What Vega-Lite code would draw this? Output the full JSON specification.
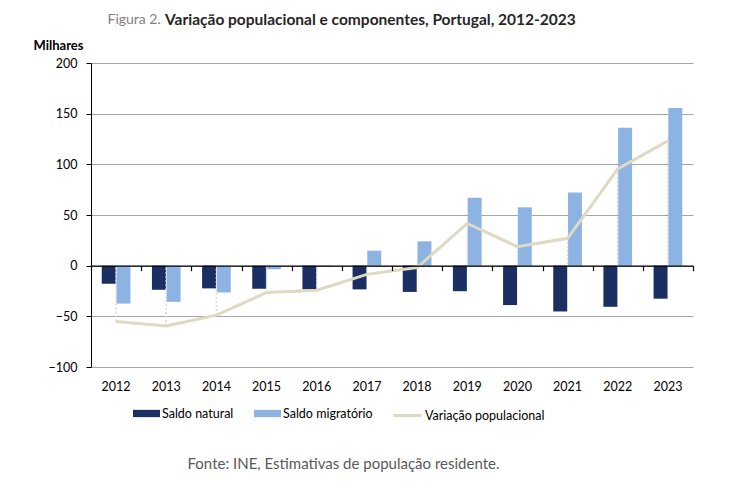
{
  "$schema": "https://vega.github.io/schema/vega-lite/v6.json",
  "padding": {"left": 33, "top": 12, "right": 5, "bottom": 5},
  "background": "white",
  "width": 602,
  "height": 304,
  "config": {"font": "Lato", "view": {"stroke": null}},
  "title": {
    "text": "Variação populacional e componentes, Portugal, 2012-2023",
    "anchor": "start",
    "frame": "group",
    "dx": 74,
    "offset": -15,
    "font": "Lato",
    "fontSize": 15.5,
    "fontWeight": "bold",
    "color": "#262626"
  },
  "datasets": {
    "bars": [
      {"ano": "2012", "serie": "Saldo natural", "valor": -17.8},
      {"ano": "2012", "serie": "Saldo migratório", "valor": -37.4},
      {"ano": "2013", "serie": "Saldo natural", "valor": -23.8},
      {"ano": "2013", "serie": "Saldo migratório", "valor": -35.7},
      {"ano": "2014", "serie": "Saldo natural", "valor": -22.4},
      {"ano": "2014", "serie": "Saldo migratório", "valor": -26.4},
      {"ano": "2015", "serie": "Saldo natural", "valor": -22.9},
      {"ano": "2015", "serie": "Saldo migratório", "valor": -3.6},
      {"ano": "2016", "serie": "Saldo natural", "valor": -23.4},
      {"ano": "2016", "serie": "Saldo migratório", "valor": -0.5},
      {"ano": "2017", "serie": "Saldo natural", "valor": -23.4},
      {"ano": "2017", "serie": "Saldo migratório", "valor": 14.8},
      {"ano": "2018", "serie": "Saldo natural", "valor": -25.9},
      {"ano": "2018", "serie": "Saldo migratório", "valor": 24.0},
      {"ano": "2019", "serie": "Saldo natural", "valor": -25.2},
      {"ano": "2019", "serie": "Saldo migratório", "valor": 66.9},
      {"ano": "2020", "serie": "Saldo natural", "valor": -38.9},
      {"ano": "2020", "serie": "Saldo migratório", "valor": 57.6},
      {"ano": "2021", "serie": "Saldo natural", "valor": -45.2},
      {"ano": "2021", "serie": "Saldo migratório", "valor": 72.2},
      {"ano": "2022", "serie": "Saldo natural", "valor": -40.6},
      {"ano": "2022", "serie": "Saldo migratório", "valor": 136.1},
      {"ano": "2023", "serie": "Saldo natural", "valor": -32.6},
      {"ano": "2023", "serie": "Saldo migratório", "valor": 155.7}
    ],
    "linha": [
      {"ano": "2012", "serie": "Variação populacional", "valor": -55.2},
      {"ano": "2013", "serie": "Variação populacional", "valor": -59.5},
      {"ano": "2014", "serie": "Variação populacional", "valor": -48.8},
      {"ano": "2015", "serie": "Variação populacional", "valor": -26.5},
      {"ano": "2016", "serie": "Variação populacional", "valor": -24.2},
      {"ano": "2017", "serie": "Variação populacional", "valor": -8.6},
      {"ano": "2018", "serie": "Variação populacional", "valor": -1.9},
      {"ano": "2019", "serie": "Variação populacional", "valor": 41.7},
      {"ano": "2020", "serie": "Variação populacional", "valor": 18.7},
      {"ano": "2021", "serie": "Variação populacional", "valor": 27.0},
      {"ano": "2022", "serie": "Variação populacional", "valor": 95.5},
      {"ano": "2023", "serie": "Variação populacional", "valor": 123.1}
    ]
  },
  "layer": [
    {
      "data": {"name": "bars"},
      "mark": {"type": "bar"},
      "encoding": {
        "x": {
          "field": "ano", "type": "nominal",
          "scale": {"paddingInner": 0, "paddingOuter": 0},
          "axis": {
            "orient": "bottom", "domain": false, "ticks": false, "labelAngle": 0,
            "labelPadding": 13, "labelFontSize": 12.5, "labelColor": "#000000", "labelFont": "Lato",
            "title": "Fonte: INE, Estimativas de população residente.",
            "titleX": 252, "titleY": 96, "titleAlign": "center", "titleBaseline": "middle",
            "titleFont": "Lato", "titleFontSize": 15, "titleFontWeight": "normal", "titleColor": "#595959"
          }
        },
        "xOffset": {
          "field": "serie", "type": "nominal",
          "scale": {"domain": ["Saldo natural", "Saldo migratório"], "paddingInner": 0.05, "paddingOuter": 0.73}
        },
        "y": {
          "field": "valor", "type": "quantitative",
          "scale": {"domain": [-100, 200], "nice": false, "zero": false},
          "axis": {
            "values": [-100, -50, 0, 50, 100, 150, 200],
            "grid": true, "gridColor": "#a6a6a6", "gridWidth": 1,
            "domain": true, "domainColor": "#000000", "domainWidth": 1,
            "ticks": true, "tickColor": "#000000", "tickSize": 5,
            "labelPadding": 9, "labelFontSize": 12.5, "labelColor": "#000000", "labelFont": "Lato",
            "title": "Milhares", "titleAngle": 0, "titleAlign": "left", "titleBaseline": "middle",
            "titleX": -58, "titleY": -18, "titleFont": "Lato", "titleFontSize": 13, "titleFontWeight": "bold", "titleColor": "#000000"
          }
        },
        "fill": {
          "field": "serie", "type": "nominal",
          "scale": {"domain": ["Saldo natural", "Saldo migratório"], "range": ["#1c2f62", "#8db3e2"]},
          "legend": {
            "orient": "none", "legendX": 42, "legendY": 337, "direction": "horizontal",
            "title": null, "symbolType": "M-1,-0.27H1V0.27H-1Z", "symbolSize": 729, "symbolStrokeWidth": 0,
            "labelFont": "Lato", "labelFontSize": 12.5, "labelColor": "#000000", "labelOffset": 2, "columnPadding": 20
          }
        }
      }
    },
    {
      "data": {"name": "linha"},
      "mark": {"type": "rule", "color": "#d9d9d9", "strokeWidth": 1.5, "strokeDash": [2, 2]},
      "encoding": {
        "x": {
          "field": "ano", "type": "nominal",
          "axis": {
            "orient": "bottom", "offset": -101.33, "zindex": 1, "labels": false,
            "domain": true, "domainColor": "#000000", "domainWidth": 1.2,
            "ticks": true, "tickBand": "extent", "tickColor": "#000000", "tickSize": 5, "tickWidth": 1.2,
            "grid": false,
            "title": "Figura 2.", "titleX": 16, "titleY": -245.67, "titleAlign": "left", "titleBaseline": "middle",
            "titleFont": "Lato", "titleFontSize": 14, "titleFontWeight": "normal", "titleColor": "#7f7f7f"
          }
        },
        "y": {"field": "valor", "type": "quantitative"},
        "y2": {"datum": 0}
      }
    },
    {
      "data": {"name": "linha"},
      "mark": {"type": "line", "strokeWidth": 3, "interpolate": "linear"},
      "encoding": {
        "x": {"field": "ano", "type": "nominal", "axis": null},
        "y": {"field": "valor", "type": "quantitative"},
        "stroke": {
          "field": "serie", "type": "nominal",
          "scale": {"domain": ["Variação populacional"], "range": ["#ddd9c3"]},
          "legend": {
            "orient": "none", "legendX": 301, "legendY": 337, "direction": "horizontal",
            "title": null, "symbolType": "stroke", "symbolSize": 784, "symbolStrokeWidth": 3,
            "labelFont": "Lato", "labelFontSize": 12.5, "labelColor": "#000000", "labelOffset": 2
          }
        }
      }
    }
  ],
  "resolve": {"axis": {"x": "independent"}}
}
